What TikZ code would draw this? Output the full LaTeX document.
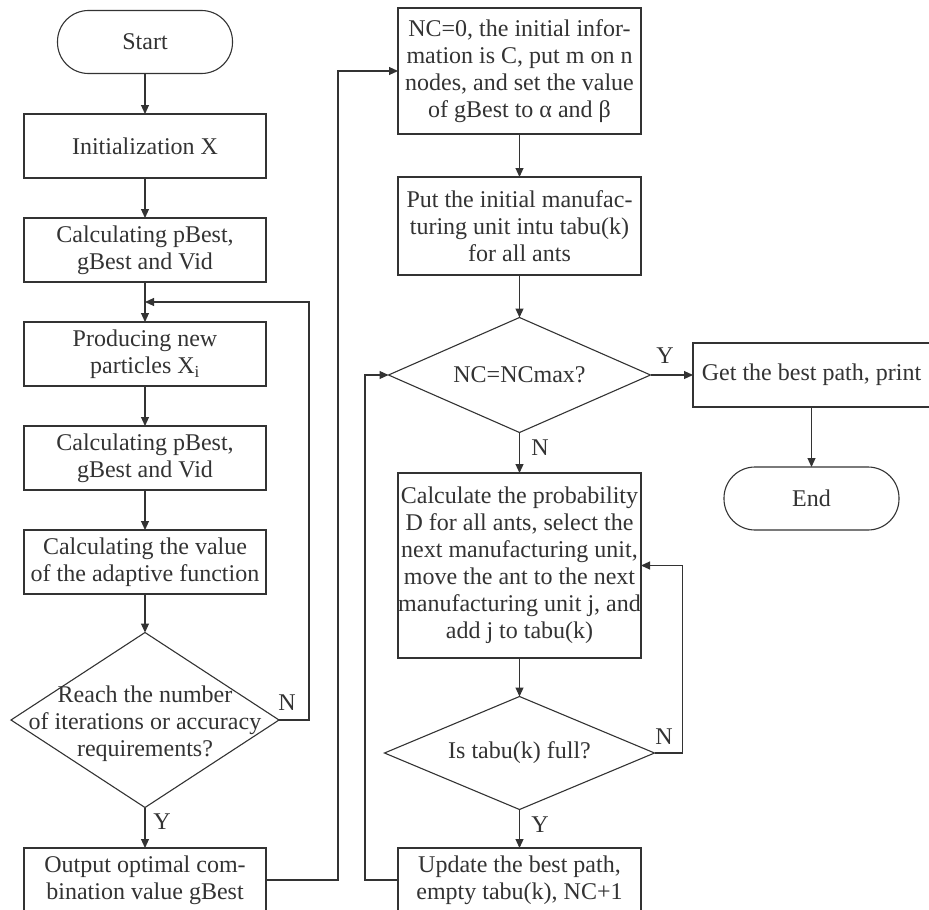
\documentclass[tikz,border=0pt]{standalone}
\usepackage{fontspec}
\setmainfont{Liberation Serif}
\usetikzlibrary{arrows.meta,shapes.geometric}
\definecolor{ink}{HTML}{333333}
\begin{document}
\begin{tikzpicture}[x=1pt,y=-1pt,
  font=\fontsize{24}{27}\selectfont,
  every node/.style={text=ink},
  box/.style={draw=ink, line width=1.1pt, rectangle, inner sep=0pt, outer sep=0pt, align=center, minimum width=242pt, minimum height=64pt},
  term/.style={draw=ink, line width=1.1pt, rectangle, rounded corners=31pt, outer sep=0pt, minimum width=175pt, minimum height=63pt},
  decision/.style={draw=ink, line width=1.1pt, diamond, inner sep=0pt, outer sep=0pt},
  flow/.style={draw=ink, line width=1.1pt, -{Triangle[length=9pt,width=8pt]}},
  lbl/.style={inner sep=0pt}
]
\useasboundingbox (0,0) rectangle (929,910);
\fill[white] (0,0) rectangle (929,910);

% ---- particle swarm column ----
\node[term] (start) at (145,42) {Start};
\node[box] (init) at (145,146) {Initialization X};
\node[box] (calcA) at (145,250) {Calculating pBest,\\gBest and Vid};
\node[box] (prod) at (145,354) {Producing new\\particles X\textsubscript{i}};
\node[box] (calcB) at (145,458) {Calculating pBest,\\gBest and Vid};
\node[box] (fit) at (145,562) {Calculating the value\\of the adaptive function};
\node[decision, minimum width=268pt, minimum height=175pt] (reach) at (145,720) {};
\node[align=center] (reachtxt) at (145,724) {Reach the number\\of iterations or accuracy\\requirements?};
\node[box] (out) at (145,880) {Output optimal com-\\bination value gBest};
\coordinate (merge) at (145,302);

% ---- ant colony column ----
\node[box, minimum width=243pt, minimum height=126pt] (nc0) at (519.5,71) {NC=0, the initial infor-\\mation is C, put m on n\\nodes, and set the value\\of gBest to α and β};
\node[box, minimum width=243pt, minimum height=98pt] (put) at (519.5,226) {Put the initial manufac-\\turing unit intu tabu(k)\\for all ants};
\node[decision, minimum width=262pt, minimum height=115pt] (ncmax) at (519.5,375) {};
\node (ncmaxtxt) at (519.5,375) {NC=NCmax?};
\node[box, minimum width=243pt, minimum height=185pt] (prob) at (519.5,565.5) {Calculate the probability\\D for all ants, select the\\next manufacturing unit,\\move the ant to the next\\manufacturing unit j, and\\add j to tabu(k)};
\node[decision, minimum width=270pt, minimum height=113pt] (full) at (519.5,753) {};
\node (fulltxt) at (519.5,753) {Is tabu(k) full?};
\node[box, minimum width=243pt] (upd) at (519.5,880) {Update the best path,\\empty tabu(k), NC+1};

% ---- result column ----
\node[box, minimum width=237pt] (best) at (811.5,375) {Get the best path, print};
\node[term] (end) at (811.5,498.5) {End};

% ---- connectors ----
\draw[flow] (start) -- (init);
\draw[flow] (init) -- (calcA);
\draw[flow] (calcA) -- (prod);
\draw[flow] (prod) -- (calcB);
\draw[flow] (calcB) -- (fit);
\draw[flow] (fit) -- (reach.north);
\draw[flow] (reach.south) -- (out.north);
\draw[flow] (reach.east) -- ++(30,0) |- (merge);
\draw[flow] (out.east) -- ++(72,0) |- (nc0.west);

\draw[flow] (nc0) -- (put);
\draw[flow] (put) -- (ncmax.north);
\draw[flow] (ncmax.east) -- (best.west);
\draw[flow] (best) -- (end);
\draw[flow] (ncmax.south) -- (prob.north);
\draw[flow] (prob) -- (full.north);
\draw[flow] (full.south) -- (upd.north);
\draw[flow] (full.east) -- ++(28,0) |- (prob.east);
\draw[flow] (upd.west) -- ++(-33,0) |- (ncmax.west);

% ---- branch labels ----
\node[lbl] at (287,703) {N};
\node[lbl] at (162,822) {Y};
\node[lbl] at (665,356) {Y};
\node[lbl] at (540,448) {N};
\node[lbl] at (664,737) {N};
\node[lbl] at (540,825) {Y};
\end{tikzpicture}
\end{document}
